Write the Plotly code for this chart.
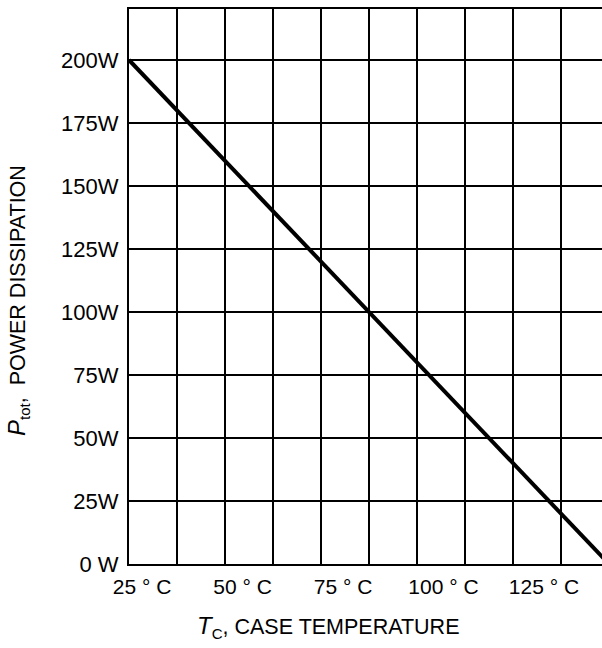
import plotly.graph_objects as go

# ---- data ----
case_temp_c = [25, 150]          # °C
power_w = [200, 0]               # W

x_tick_temps = [25, 50, 75, 100, 125]
x_tick_labels = ["25 ° C", "50 ° C", "75 ° C", "100 ° C", "125 ° C"]

y_tick_vals = [0, 25, 50, 75, 100, 125, 150, 175, 200]
y_tick_labels = ["0 W", "25W", "50W", "75W", "100W", "125W", "150W", "175W", "200W"]

FONT = "Liberation Sans, Arial, Helvetica, sans-serif"

W, H = 602, 648
LEFT, TOP, BOTTOM = 129, 9, 564          # frame edges in page pixels
ML, MR, MT = LEFT, 0, TOP
MB = H - BOTTOM
plot_w = W - ML - MR
plot_h = H - MT - MB

# main axis: grid every 12.5 °C, 48 px apart
x_px_per_deg = 48 / 12.5
x_range = [25, 25 + plot_w / x_px_per_deg]
# label axis: labels ~100 px per 25 °C, 25 °C sits 13 px right of the frame
lab_px_per_deg = 100.5 / 25
lab_left = 25 - 13 / lab_px_per_deg
x2_range = [lab_left, lab_left + plot_w / lab_px_per_deg]

y_px_per_w = (564 - 60) / 200
y_range = [0, 200 + (60 - TOP) / y_px_per_w]


def px_x(px):
    return (px - LEFT) / plot_w


def px_y(py):
    return (BOTTOM - py) / plot_h


fig = go.Figure()
fig.add_trace(go.Scatter(
    x=case_temp_c, y=power_w, mode="lines",
    line=dict(color="black", width=4), hoverinfo="skip", showlegend=False,
))
fig.add_trace(go.Scatter(
    x=x_tick_temps, y=[y_tick_vals[0]] * len(x_tick_temps), xaxis="x2",
    mode="markers", marker=dict(opacity=0), hoverinfo="skip", showlegend=False,
))

fig.update_layout(
    width=W, height=H,
    margin=dict(l=ML, r=MR, t=MT, b=MB, pad=0),
    paper_bgcolor="white", plot_bgcolor="white",
    font=dict(family=FONT, color="black"),
    xaxis=dict(
        range=x_range, tick0=25, dtick=12.5, showticklabels=False,
        showgrid=True, gridcolor="black", gridwidth=2, zeroline=False,
        showline=True, linecolor="black", linewidth=2, mirror=True, ticks="",
    ),
    xaxis2=dict(
        range=x2_range, overlaying="x", anchor="y", side="bottom",
        tickvals=x_tick_temps, ticktext=x_tick_labels,
        showgrid=False, zeroline=False, showline=False, ticks="",
        tickfont=dict(family=FONT, size=21, color="black"),
        ticklabelstandoff=8,
    ),
    yaxis=dict(
        range=y_range, tickvals=y_tick_vals, ticktext=y_tick_labels,
        showgrid=True, gridcolor="black", gridwidth=2, zeroline=False,
        showline=True, linecolor="black", linewidth=2, mirror=False, ticks="",
        tickfont=dict(family=FONT, size=22, color="black"),
        ticklabelstandoff=4,
    ),
    annotations=[
        dict(
            text='<i><span style="font-size:24px">T</span></i><sub>C</sub>, CASE TEMPERATURE',
            xref="paper", yref="paper", x=px_x(328), y=px_y(627),
            xanchor="center", yanchor="middle", showarrow=False,
            font=dict(family=FONT, size=21.5, color="black"),
        ),
        dict(
            text='<i><span style="font-size:24px">P</span></i><sub>tot</sub>,  POWER DISSIPATION',
            xref="paper", yref="paper", x=px_x(18), y=px_y(301),
            xanchor="center", yanchor="middle", textangle=-90, showarrow=False,
            font=dict(family=FONT, size=21.5, color="black"),
        ),
    ],
)

# the page body's default 8 px margin would shift and clip the figure
fig.write_html(
    "out.html",
    config={"displayModeBar": False},
    post_script="document.body.style.margin='0';",
)
